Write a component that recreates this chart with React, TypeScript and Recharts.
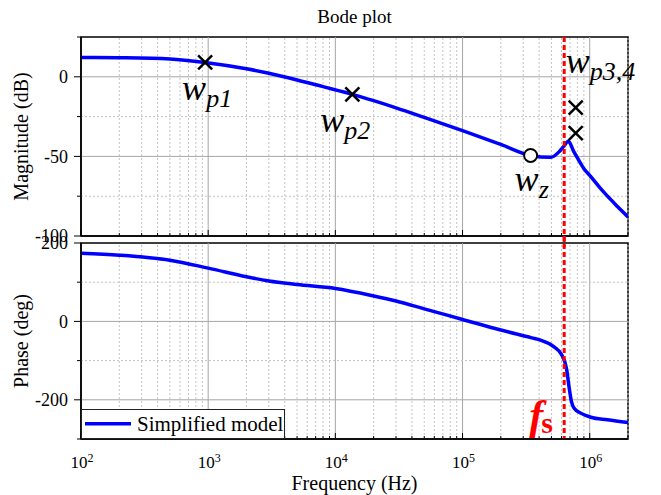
import {
  LineChart,
  Line,
  XAxis,
  YAxis,
  ReferenceLine,
  ReferenceDot,
  ReferenceArea,
  Legend,
} from "recharts";

const FONT = "Liberation Serif, Times New Roman, serif";

// magnitude curve (Hz, dB)
const magFreq = [100, 200, 500, 946, 2000, 3000, 5000, 8000, 13600, 20000, 30000, 50000, 100000, 200000, 343000, 493000, 576000, 624000, 680000, 748000, 805000, 898000, 1020000, 1220000, 1390000, 1660000, 2000000];
const magDb = [12.2, 12.0, 11.2, 9.0, 5.0, 2.2, -2.0, -6.2, -11.0, -15.0, -19.5, -25.5, -33.8, -42.5, -49.4, -50.6, -47.0, -43.7, -40.5, -46.8, -51.3, -57.6, -62.7, -70.3, -75.3, -81.6, -88.0];

// phase curve (Hz, deg)
const phaseFreq = [100, 200, 500, 1000, 2000, 3000, 5000, 10000, 20000, 30000, 50000, 100000, 200000, 350000, 411000, 524000, 599000, 635000, 659000, 687000, 718000, 752000, 850000, 1020000, 1380000, 2000000];
const phaseDeg = [174, 169, 156, 136, 114, 103, 94, 84, 65, 52, 32, 5, -22, -42, -48, -65, -84, -101.8, -123, -166, -204, -221, -234, -244.4, -251, -258];

// poles / zero markers
const poleFreq = [946, 13600, 776000, 776000];
const poleDb = [9, -11, -19.4, -35.4];
const poleNames = ["p1", "p2", "p3,4", ""];
const zeroFreq = 343000;
const zeroDb = -49.4;
const fsFreq = 630000;

// axes
const decades = [100, 1000, 10000, 100000, 1000000];
const minorSteps = [2, 3, 4, 5, 6, 7, 8, 9];
const minorFreq = decades
  .flatMap((d) => minorSteps.map((k) => d * k))
  .filter((f) => f <= 2000000);
const xTicks = [...decades, ...minorFreq].sort((a, b) => a - b);

const magTicks = [-100, -75, -50, -25, 0, 25];
const magLabeled = [-100, -50, 0];
const magMajorGrid = [0, -50];
const magMinorGrid = [-25, -75];

const phaseTicks = [-300, -200, -100, 0, 100, 200];
const phaseLabeled = [-200, 0, 200];
const phaseMajorGrid = [0, -200];
const phaseMinorGrid = [100, -100];

const magData = magFreq.map((f, i) => ({ f, mag: magDb[i] }));
const phaseData = phaseFreq.map((f, i) => ({ f, phase: phaseDeg[i] }));

const labelOffset: Record<string, [number, number]> = {
  p1: [-23, 38],
  p2: [-32, 38],
  "p3,4": [-10, -35],
};

function XTick(props: any) {
  const { x, y, payload, showLabel } = props;
  const v = payload.value;
  const major = decades.includes(v);
  return (
    <g>
      <line x1={x} x2={x} y1={y} y2={y - (major ? 6 : 3)} stroke="#000" />
      {showLabel && major && (
        <g fill="#000">
          <text x={x - 2} y={y + 29} textAnchor="middle" fontSize={17} fontFamily={FONT}>
            10
          </text>
          <text x={x + 6.5} y={y + 22.5} fontSize={12} fontFamily={FONT}>
            {Math.round(Math.log10(v))}
          </text>
        </g>
      )}
    </g>
  );
}

function YTick(props: any) {
  const { x, y, payload, labels } = props;
  const v = payload.value;
  const major = labels.includes(v);
  return (
    <g>
      <line x1={x - (major ? 7 : 4)} x2={x} y1={y} y2={y} stroke="#000" />
      {major && (
        <text x={x - 13} y={y} dy="0.35em" textAnchor="end" fontSize={18} fontFamily={FONT} fill="#000">
          {v}
        </text>
      )}
    </g>
  );
}

const yTitle = (text: string) => (p: any) => {
  const vb = p.viewBox || { x: 0, y: 0, width: 81, height: 200 };
  const cx = vb.x + 28;
  const cy = vb.y + vb.height / 2;
  return (
    <text x={cx} y={cy} transform={`rotate(-90 ${cx} ${cy})`} textAnchor="middle" fontSize={20} fontFamily={FONT} fill="#000">
      {text}
    </text>
  );
};

const xTitle = (p: any) => {
  const vb = p.viewBox || { x: 81, y: 439, width: 547, height: 56 };
  return (
    <text x={vb.x + vb.width / 2} y={vb.y + 51} textAnchor="middle" fontSize={20} fontFamily={FONT} fill="#000">
      Frequency (Hz)
    </text>
  );
};

function Cross(props: any) {
  const { cx, cy, name } = props;
  const off = labelOffset[name];
  return (
    <g>
      <line x1={cx - 7} y1={cy - 7} x2={cx + 7} y2={cy + 7} stroke="#000" strokeWidth={2.5} />
      <line x1={cx - 7} y1={cy + 7} x2={cx + 7} y2={cy - 7} stroke="#000" strokeWidth={2.5} />
      {off && (
        <text x={cx + off[0]} y={cy + off[1]} fontFamily={FONT} fontStyle="italic" fontSize={36} fill="#000">
          w
          <tspan fontSize={26} dy={7}>
            {name}
          </tspan>
        </text>
      )}
    </g>
  );
}

function ZeroMark(props: any) {
  const { cx, cy } = props;
  return (
    <g>
      <circle cx={cx} cy={cy} r={6.5} fill="#fff" stroke="#000" strokeWidth={2} />
      <text x={cx - 16} y={cy + 36} fontFamily={FONT} fontStyle="italic" fontSize={36} fill="#000">
        w
        <tspan fontSize={26} dy={7}>
          z
        </tspan>
      </text>
    </g>
  );
}

function FsLabel(props: any) {
  const { cx, cy } = props;
  return (
    <g fill="#ff0000">
      <text x={cx - 35} y={cy - 10} fontFamily={FONT} fontStyle="italic" fontWeight="bold" fontSize={42}>
        f
      </text>
      <text x={cx - 23} y={cy - 6} fontFamily={FONT} fontWeight="bold" fontSize={30}>
        s
      </text>
    </g>
  );
}

function LegendBox(props: any) {
  const item = props.payload && props.payload[0];
  return (
    <svg width={204} height={30} style={{ display: "block" }}>
      <rect x={0.5} y={0.5} width={203} height={29} fill="#fff" stroke="#222" />
      <line x1={4} x2={50} y1={14.7} y2={14.7} stroke={item ? item.color : "#0000ff"} strokeWidth={3.5} />
      <text x={56} y={22} fontSize={21} fontFamily={FONT} fill="#000">
        {item ? item.value : "Simplified model"}
      </text>
    </svg>
  );
}

const xAxisProps = {
  dataKey: "f",
  type: "number" as const,
  scale: "log" as const,
  domain: [100, 2000000],
  allowDataOverflow: true,
  ticks: xTicks,
  interval: 0,
  tickSize: 0,
  tickMargin: 0,
  tickLine: false,
  axisLine: { stroke: "#000", strokeWidth: 1.5 },
};

const vGrid = () => [
  ...decades.slice(1).map((d) => (
    <ReferenceLine key={"vM" + d} x={d} stroke="#a6a6a6" strokeWidth={1} />
  )),
  ...minorFreq.map((d) => (
    <ReferenceLine key={"vm" + d} x={d} stroke="#c4c4c4" strokeDasharray="2 2" strokeWidth={1} />
  )),
];

export default function App() {
  return (
    <div style={{ position: "absolute", left: 0, top: 0, width: 661, height: 495, background: "#fff", fontFamily: FONT }}>
      <div style={{ position: "absolute", left: 81, width: 547, top: 7, textAlign: "center", fontSize: 19, lineHeight: "19px" }}>
        Bode plot
      </div>

      <div style={{ position: "absolute", left: 0, top: 0 }}>
        <LineChart width={661} height={250} data={magData} margin={{ top: 37, right: 33, bottom: 10, left: 0 }}>
          <XAxis {...xAxisProps} height={4} tick={<XTick showLabel={false} />} />
          <YAxis
            type="number"
            domain={[-100, 25]}
            allowDataOverflow
            ticks={magTicks}
            interval={0}
            width={81}
            tickSize={0}
            tickMargin={0}
            tickLine={false}
            axisLine={{ stroke: "#000", strokeWidth: 1.5 }}
            tick={<YTick labels={magLabeled} />}
            label={{ content: yTitle("Magnitude (dB)") }}
          />
          {vGrid()}
          {magMajorGrid.map((v) => (
            <ReferenceLine key={"hM" + v} y={v} stroke="#a6a6a6" />
          ))}
          {magMinorGrid.map((v) => (
            <ReferenceLine key={"hm" + v} y={v} stroke="#c4c4c4" strokeDasharray="2 2" />
          ))}
          <Line dataKey="mag" type="monotone" stroke="#0000ff" strokeWidth={3.5} dot={false} isAnimationActive={false} />
          <ReferenceLine
            segment={[
              { x: fsFreq, y: 25 },
              { x: fsFreq, y: -107 },
            ]}
            stroke="#ff0000"
            strokeWidth={3}
            strokeDasharray="5 3"
            ifOverflow="visible"
          />
          <ReferenceArea x1={100} x2={2000000} y1={-100} y2={25} fill="none" fillOpacity={0} stroke="#000" strokeWidth={1.5} ifOverflow="visible" />
          {poleFreq.map((f, i) => (
            <ReferenceDot
              key={"p" + i}
              x={f}
              y={poleDb[i]}
              r={7}
              ifOverflow="visible"
              shape={(p: any) => <Cross cx={p.cx} cy={p.cy} name={poleNames[i]} />}
            />
          ))}
          <ReferenceDot x={zeroFreq} y={zeroDb} r={6.5} ifOverflow="visible" shape={(p: any) => <ZeroMark cx={p.cx} cy={p.cy} />} />
        </LineChart>
      </div>

      <div style={{ position: "absolute", left: 0, top: 230 }}>
        <LineChart width={661} height={265} data={phaseData} margin={{ top: 13, right: 33, bottom: 0, left: 0 }}>
          <XAxis {...xAxisProps} height={56} tick={<XTick showLabel />} label={{ content: xTitle }} />
          <YAxis
            type="number"
            domain={[-300, 200]}
            allowDataOverflow
            ticks={phaseTicks}
            interval={0}
            width={81}
            tickSize={0}
            tickMargin={0}
            tickLine={false}
            axisLine={{ stroke: "#000", strokeWidth: 1.5 }}
            tick={<YTick labels={phaseLabeled} />}
            label={{ content: yTitle("Phase (deg)") }}
          />
          {vGrid()}
          {phaseMajorGrid.map((v) => (
            <ReferenceLine key={"hM" + v} y={v} stroke="#a6a6a6" />
          ))}
          {phaseMinorGrid.map((v) => (
            <ReferenceLine key={"hm" + v} y={v} stroke="#c4c4c4" strokeDasharray="2 2" />
          ))}
          <Line
            dataKey="phase"
            name="Simplified model"
            type="monotone"
            stroke="#0000ff"
            strokeWidth={3.5}
            dot={false}
            isAnimationActive={false}
          />
          <ReferenceLine
            segment={[
              { x: fsFreq, y: 218 },
              { x: fsFreq, y: -300 },
            ]}
            stroke="#ff0000"
            strokeWidth={3}
            strokeDasharray="5 3"
            ifOverflow="visible"
          />
          <ReferenceArea x1={100} x2={2000000} y1={-300} y2={200} fill="none" fillOpacity={0} stroke="#000" strokeWidth={1.5} ifOverflow="visible" />
          <ReferenceDot x={fsFreq} y={-300} r={1} ifOverflow="visible" shape={(p: any) => <FsLabel cx={p.cx} cy={p.cy} />} />
          <Legend
            layout="vertical"
            align="center"
            verticalAlign="middle"
            wrapperStyle={{ left: 81, top: 179, width: 204, height: 30 }}
            content={LegendBox}
          />
        </LineChart>
      </div>
    </div>
  );
}
